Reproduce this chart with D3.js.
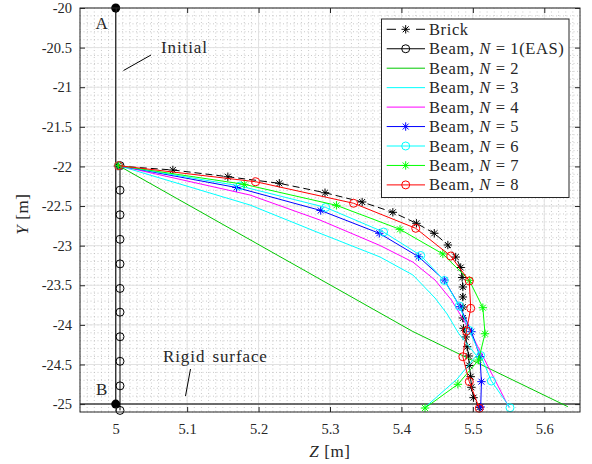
<!DOCTYPE html>
<html><head><meta charset="utf-8">
<script src="https://cdn.jsdelivr.net/npm/d3@7"></script>
<style>
body{margin:0;background:#fff}
svg{display:block}
text{font-family:"Liberation Serif","Times New Roman",serif;fill:#262626}
</style>
</head><body>
<svg id="chart" width="592" height="464"></svg>
<script>
// ---------- data ----------
const xTickValues = [5, 5.1, 5.2, 5.3, 5.4, 5.5, 5.6];
const xTickLabels = ["5", "5.1", "5.2", "5.3", "5.4", "5.5", "5.6"];
const yTickValues = [-20, -20.5, -21, -21.5, -22, -22.5, -23, -23.5, -24, -24.5, -25];
const yTickLabels = ["-20", "-20.5", "-21", "-21.5", "-22", "-22.5", "-23", "-23.5", "-24", "-24.5", "-25"];

const seriesNames = ["Brick", "Beam, N = 1(EAS)", "Beam, N = 2", "Beam, N = 3", "Beam, N = 4",
                     "Beam, N = 5", "Beam, N = 6", "Beam, N = 7", "Beam, N = 8"];

// initial configuration A-B
const initialZ = [5.0, 5.0];
const initialY = [-20, -25];
// rigid surface
const surfaceY = -25;

const brickZ = [5.003, 5.080, 5.157, 5.229, 5.293, 5.345, 5.388, 5.421, 5.446, 5.465, 5.476, 5.483, 5.485, 5.486, 5.486, 5.486, 5.486, 5.487, 5.490, 5.492, 5.494, 5.495, 5.497, 5.498, 5.501, 5.509];
const brickY = [-21.995, -22.045, -22.130, -22.213, -22.332, -22.449, -22.579, -22.718, -22.844, -22.992, -23.144, -23.276, -23.402, -23.522, -23.648, -23.775, -23.913, -24.043, -24.153, -24.276, -24.393, -24.513, -24.654, -24.788, -24.919, -25.041];

const beam1Z = [5.006, 5.006, 5.006, 5.006, 5.006, 5.006, 5.006, 5.006, 5.006, 5.006, 5.006];
const beam1Y = [-21.99, -22.30, -22.61, -22.92, -23.23, -23.54, -23.84, -24.15, -24.46, -24.77, -25.08];

const beam2Z = [5.004, 5.416, 5.633];
const beam2Y = [-21.99, -24.084, -25.033];

const beam3Z = [5.004, 5.188, 5.286, 5.370, 5.416, 5.447, 5.464, 5.480, 5.505, 5.478, 5.433];
const beam3Y = [-21.99, -22.487, -22.844, -23.143, -23.370, -23.661, -23.863, -24.107, -24.387, -24.684, -25.041];

const beam4Z = [5.004, 5.188, 5.286, 5.370, 5.416, 5.447, 5.470, 5.487, 5.500, 5.513, 5.531, 5.550];
const beam4Y = [-21.99, -22.361, -22.677, -22.998, -23.207, -23.434, -23.686, -23.939, -24.153, -24.380, -24.696, -25.033];

const beam5Z = [5.004, 5.169, 5.287, 5.369, 5.424, 5.460, 5.482, 5.498, 5.510, 5.512, 5.511];
const beam5Y = [-21.99, -22.266, -22.556, -22.844, -23.140, -23.434, -23.771, -24.086, -24.402, -24.717, -25.037];

const beam6Z = [5.004, 5.174, 5.294, 5.375, 5.427, 5.460, 5.481, 5.495, 5.511, 5.526, 5.552];
const beam6Y = [-21.99, -22.247, -22.518, -22.828, -23.124, -23.440, -23.762, -24.071, -24.387, -24.709, -25.046];

const beam7Z = [5.004, 5.180, 5.309, 5.398, 5.458, 5.495, 5.514, 5.517, 5.508, 5.479, 5.433];
const beam7Y = [-21.99, -22.226, -22.491, -22.794, -23.105, -23.438, -23.783, -24.112, -24.444, -24.750, -25.050];

const beam8Z = [5.004, 5.196, 5.333, 5.420, 5.469, 5.495, 5.497, 5.491, 5.486, 5.495, 5.509];
const beam8Y = [-21.99, -22.193, -22.465, -22.781, -23.131, -23.446, -23.791, -24.077, -24.402, -24.717, -25.053];

// ---------- setup ----------
const M = {left: 80, right: 580, top: 8, bottom: 412};
const x = d3.scaleLinear().domain([4.95, 5.65]).range([M.left, M.right]);
const y = d3.scaleLinear().domain([-25.1, -20]).range([M.bottom, M.top]);
const svg = d3.select("#chart");
const axisColor = "#262626";

const zip = (zs, ys) => zs.map((z, i) => [z, ys[i]]);
const series = [
  {name: seriesNames[0], pts: zip(brickZ, brickY), color: "#000000", dash: "7,4", marker: "star"},
  {name: seriesNames[1], pts: zip(beam1Z, beam1Y), color: "#000000", marker: "circle"},
  {name: seriesNames[2], pts: zip(beam2Z, beam2Y), color: "#00c800", marker: null},
  {name: seriesNames[3], pts: zip(beam3Z, beam3Y), color: "#00ffff", marker: null},
  {name: seriesNames[4], pts: zip(beam4Z, beam4Y), color: "#ff00ff", marker: null},
  {name: seriesNames[5], pts: zip(beam5Z, beam5Y), color: "#0000ff", marker: "star"},
  {name: seriesNames[6], pts: zip(beam6Z, beam6Y), color: "#00ffff", marker: "circle"},
  {name: seriesNames[7], pts: zip(beam7Z, beam7Y), color: "#00ff00", marker: "star"},
  {name: seriesNames[8], pts: zip(beam8Z, beam8Y), color: "#ff0000", marker: "circle"}
];

function starPath(cx, cy, s) {
  const d = s * 0.7071;
  return `M${cx - s},${cy}L${cx + s},${cy}M${cx},${cy - s}L${cx},${cy + s}` +
         `M${cx - d},${cy - d}L${cx + d},${cy + d}M${cx - d},${cy + d}L${cx + d},${cy - d}`;
}
function drawMarker(g, type, cx, cy, color) {
  if (type === "star") {
    g.append("path").attr("d", starPath(cx, cy, 4.2)).attr("stroke", color)
      .attr("stroke-width", 1).attr("fill", "none");
  } else if (type === "circle") {
    g.append("circle").attr("cx", cx).attr("cy", cy).attr("r", 4)
      .attr("stroke", color).attr("stroke-width", 1).attr("fill", "none");
  }
}

// ---------- grid ----------
const grid = svg.append("g");
const minorX = d3.range(4.95, 5.6501, 0.01).map(v => +v.toFixed(3));
const minorY = d3.range(-25.1, -19.999, 0.1).map(v => +v.toFixed(3));
grid.selectAll("line.mx").data(minorX).enter().append("line")
  .attr("x1", d => x(d)).attr("x2", d => x(d)).attr("y1", M.top).attr("y2", M.bottom)
  .attr("stroke", "#bcbcbc").attr("stroke-width", 0.8).attr("stroke-dasharray", "1,2.5");
grid.selectAll("line.my").data(minorY).enter().append("line")
  .attr("y1", d => y(d)).attr("y2", d => y(d)).attr("x1", M.left).attr("x2", M.right)
  .attr("stroke", "#bcbcbc").attr("stroke-width", 0.8).attr("stroke-dasharray", "1,2.5");
grid.selectAll("line.gx").data(xTickValues).enter().append("line")
  .attr("x1", d => x(d)).attr("x2", d => x(d)).attr("y1", M.top).attr("y2", M.bottom)
  .attr("stroke", "#e2e2e2").attr("stroke-width", 1);
grid.selectAll("line.gy").data(yTickValues).enter().append("line")
  .attr("y1", d => y(d)).attr("y2", d => y(d)).attr("x1", M.left).attr("x2", M.right)
  .attr("stroke", "#e2e2e2").attr("stroke-width", 1);

// ---------- reference geometry ----------
const plot = svg.append("g");
plot.append("line").attr("x1", x(initialZ[0])).attr("x2", x(initialZ[1]))
  .attr("y1", y(initialY[0])).attr("y2", y(initialY[1]))
  .attr("stroke", "#333").attr("stroke-width", 1.4);
plot.append("line").attr("x1", M.left).attr("x2", M.right)
  .attr("y1", y(surfaceY)).attr("y2", y(surfaceY))
  .attr("stroke", "#404040").attr("stroke-width", 1.5);

// ---------- series ----------
const line = d3.line().x(d => x(d[0])).y(d => y(d[1]));
series.forEach(s => {
  const g = plot.append("g");
  g.append("path").attr("d", line(s.pts)).attr("fill", "none")
    .attr("stroke", s.color).attr("stroke-width", 1)
    .attr("stroke-dasharray", s.dash || null);
  if (s.marker) s.pts.forEach(p => drawMarker(g, s.marker, x(p[0]), y(p[1]), s.color));
});

// end points A, B
initialZ.forEach((z, i) => {
  plot.append("circle").attr("cx", x(z)).attr("cy", y(initialY[i])).attr("r", 4.5).attr("fill", "#000");
});

// annotations
const ann = svg.append("g").style("font-size", "17px").style("letter-spacing", "0.9px");
ann.append("text").attr("x", 102).attr("y", 28.5).attr("text-anchor", "middle").text("A");
ann.append("text").attr("x", 102).attr("y", 394.5).attr("text-anchor", "middle").text("B");
ann.append("text").attr("x", 161).attr("y", 52.5).text("Initial");
ann.append("text").attr("x", 163).attr("y", 361.5).style("word-spacing", "2px").text("Rigid surface");
svg.append("line").attr("x1", 123.5).attr("y1", 70.5).attr("x2", 151).attr("y2", 55)
  .attr("stroke", "#000").attr("stroke-width", 1);
svg.append("line").attr("x1", 185.5).attr("y1", 396).attr("x2", 190.5).attr("y2", 369)
  .attr("stroke", "#000").attr("stroke-width", 1);

// ---------- axes box & ticks ----------
const ax = svg.append("g");
ax.append("rect").attr("x", M.left).attr("y", M.top).attr("width", M.right - M.left)
  .attr("height", M.bottom - M.top).attr("fill", "none").attr("stroke", axisColor).attr("stroke-width", 1);
const bottomAxis = d3.axisBottom(x).tickValues(xTickValues).tickSize(-5).tickPadding(12)
  .tickFormat((d, i) => xTickLabels[i]);
const topAxis = d3.axisTop(x).tickValues(xTickValues).tickSize(-5).tickFormat("");
const leftAxis = d3.axisLeft(y).tickValues(yTickValues).tickSize(-5).tickPadding(8)
  .tickFormat((d, i) => yTickLabels[i]);
const rightAxis = d3.axisRight(y).tickValues(yTickValues).tickSize(-5).tickFormat("");
function styleAxis(g) {
  g.select(".domain").remove();
  g.selectAll(".tick line").attr("stroke", axisColor);
  g.selectAll(".tick text").attr("fill", axisColor)
    .style("font-family", '"Liberation Serif", serif').style("font-size", "14.5px");
}
ax.append("g").attr("transform", `translate(0,${M.bottom})`).call(bottomAxis).call(styleAxis);
ax.append("g").attr("transform", `translate(0,${M.top})`).call(topAxis).call(styleAxis);
ax.append("g").attr("transform", `translate(${M.left},0)`).call(leftAxis).call(styleAxis);
ax.append("g").attr("transform", `translate(${M.right},0)`).call(rightAxis).call(styleAxis);

// axis labels
const xl = svg.append("text").attr("x", 330).attr("y", 457).attr("text-anchor", "middle")
  .style("font-size", "17px").style("letter-spacing", "0.6px");
xl.append("tspan").style("font-style", "italic").text("Z");
xl.append("tspan").text(" [m]");
const yl = svg.append("text").attr("transform", "translate(28,214) rotate(-90)").attr("text-anchor", "middle")
  .style("font-size", "17px").style("letter-spacing", "0.6px");
yl.append("tspan").style("font-style", "italic").text("Y");
yl.append("tspan").text(" [m]");

// ---------- legend ----------
const lg = svg.append("g");
lg.append("rect").attr("x", 381.5).attr("y", 19).attr("width", 187.5).attr("height", 178.5)
  .attr("fill", "#fff").attr("stroke", axisColor).attr("stroke-width", 1);
series.forEach((s, i) => {
  const cy = 29.3 + i * 19.45;
  if (s.dash) {
    lg.append("line").attr("x1", 386.7).attr("x2", 396).attr("y1", cy).attr("y2", cy)
      .attr("stroke", s.color).attr("stroke-width", 1);
    lg.append("line").attr("x1", 416).attr("x2", 425).attr("y1", cy).attr("y2", cy)
      .attr("stroke", s.color).attr("stroke-width", 1);
  } else {
    lg.append("line").attr("x1", 386.7).attr("x2", 425).attr("y1", cy).attr("y2", cy)
      .attr("stroke", s.color).attr("stroke-width", 1);
  }
  if (s.marker) drawMarker(lg, s.marker, 405.7, cy, s.color);
  const t = lg.append("text").attr("x", 429).attr("y", cy + 5.5)
    .style("font-size", "16.5px").style("letter-spacing", "0.6px");
  const m = s.name.match(/^(Beam, )N( = )(.*)$/);
  if (m) {
    t.append("tspan").text(m[1]);
    t.append("tspan").style("font-style", "italic").text("N");
    t.append("tspan").text(m[2] + m[3]);
  } else {
    t.text(s.name);
  }
});
</script>
</body></html>
